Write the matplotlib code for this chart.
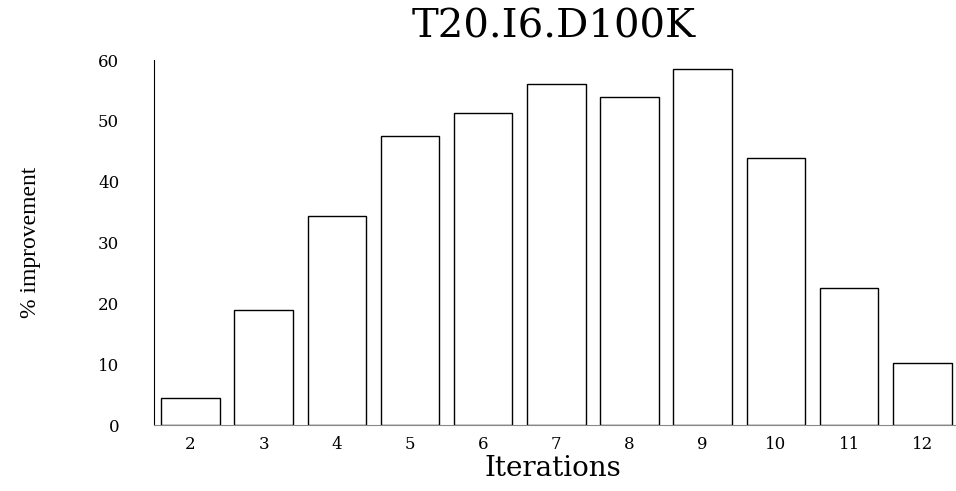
import matplotlib
matplotlib.use('Agg')
import matplotlib.pyplot as plt

# 迭代次数与对应的性能提升百分比
iterations = [2, 3, 4, 5, 6, 7, 8, 9, 10, 11, 12]
improvement = [4.5, 18.9, 34.4, 47.5, 51.3, 56.1, 54.0, 58.6, 43.9, 22.5, 10.2]
y_ticks = [0, 10, 20, 30, 40, 50, 60]

plt.rcParams['font.family'] = ['DejaVu Serif']

fig = plt.figure(figsize=(9.56, 4.91), dpi=100)
ax = fig.add_axes([0.161, 0.1344, 0.842, 0.7434])

ax.bar(iterations, improvement, width=0.8, color='white',
       edgecolor='black', linewidth=1.0)

ax.set_xlim(1.5, 12.5)
ax.set_ylim(0, 60)
ax.set_xticks(iterations)
ax.set_xticklabels([str(i) for i in iterations], fontsize=12)
ax.set_yticks(y_ticks)
ax.set_yticklabels([str(v) for v in y_ticks], fontsize=12)
ax.tick_params(axis='both', length=0)
ax.tick_params(axis='x', pad=8)
ax.tick_params(axis='y', pad=25)

# 只保留左边和底边
ax.spines['top'].set_visible(False)
ax.spines['right'].set_visible(False)
ax.spines['left'].set_color('black')
ax.spines['bottom'].set_color('#888888')

fig.text(554 / 956, 1 - 38 / 491, 'T20.I6.D100K', ha='center',
         va='baseline', fontsize=29)
fig.text(553 / 956, 1 - 476 / 491, 'Iterations', ha='center',
         va='baseline', fontsize=20)
fig.text(31 / 956, 1 - 242 / 491, '% improvement', ha='center',
         va='center', rotation=90, fontsize=17, family='Liberation Serif')

fig.savefig('out.png', dpi=100)
